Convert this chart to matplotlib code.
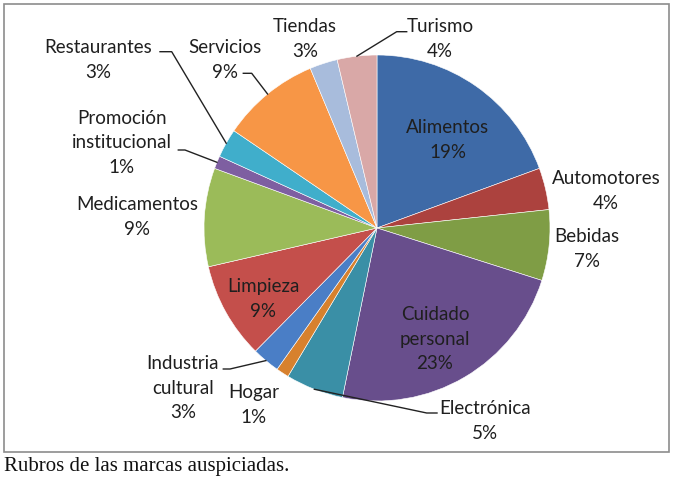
import numpy as np
import matplotlib
matplotlib.use('Agg')
import matplotlib.pyplot as plt
from matplotlib.patches import Rectangle

# Rubros de las marcas auspiciadas (porcentaje)
rubros = ['Alimentos', 'Automotores', 'Bebidas', 'Cuidado\npersonal', 'Electrónica',
          'Hogar', 'Industria\ncultural', 'Limpieza', 'Medicamentos',
          'Promoción\ninstitucional', 'Restaurantes', 'Servicios', 'Tiendas', 'Turismo']
valores = [19.4, 3.9, 6.6, 23.3, 5.4, 1.2, 2.6, 9.0, 9.2, 1.2, 2.7, 9.2, 2.6, 3.7]
colores = ['#3E6AA7', '#AC423E', '#7F9D45', '#684E8C', '#3A8FA6', '#D7812E',
           '#4A7EC6', '#C44F4B', '#9BBB59', '#7E5FA1', '#40AECB', '#F79646',
           '#A8BCDC', '#D9A8A7']

W, H = 673, 483
CX, CY, R = 377, 228, 173

# label centres in pixels (x, y from top)
pos_px = [(448, 140), (606, 191), (587, 249), (435, 339), (485, 421),
          (254, 405), (183, 388), (263, 299), (137, 217), (122, 143),
          (98, 60), (225, 60), (305, 39), (440, 39)]
# leader lines: index -> (elbow, end) in pixels
leaders = {13: ((396.7, 31.7), (406.7, 31.7)),
           11: ((251.7, 73.3), (243.3, 73.3)),
           10: ((171.7, 51.7), (160, 51.7)),
           9: ((185, 150), (178.3, 150)),
           6: ((230, 369), (223.3, 369)),
           4: ((426.7, 413), (437, 413))}

plt.rcParams['font.family'] = ['Lato', 'DejaVu Sans']

fig = plt.figure(figsize=(W / 100, H / 100), dpi=100)
ax = fig.add_axes([(CX - R) / W, 1 - (CY + R) / H, 2 * R / W, 2 * R / H])

wedges, _ = ax.pie(valores, colors=colores, startangle=90, counterclock=False,
                   radius=1, wedgeprops=dict(edgecolor='white', linewidth=0.4))
ax.set_xlim(-1, 1)
ax.set_ylim(-1, 1)
ax.set_aspect('equal')
ax.axis('off')


def px2d(p):
    return ((p[0] - CX) / R, (CY - p[1]) / R)


for i, (nom, v) in enumerate(zip(rubros, valores)):
    x, y = px2d(pos_px[i])
    ax.text(x, y, '%s\n%d%%' % (nom, round(v)), ha='center', va='center',
            fontsize=13.5, color='#1f1f1f', linespacing=1.55, clip_on=False)
    if i in leaders:
        w = wedges[i]
        ang = np.deg2rad((w.theta1 + w.theta2) / 2)
        ex, ey = np.cos(ang), np.sin(ang)
        e1 = px2d(leaders[i][0])
        e2 = px2d(leaders[i][1])
        ax.plot([ex, e1[0], e2[0]], [ey, e1[1], e2[1]], color='#222222',
                lw=1.0, clip_on=False)

fig.patches.append(Rectangle((4 / W, 1 - 452 / H), 665 / W, 448 / H,
                             transform=fig.transFigure, fill=False,
                             edgecolor='#8c8c8c', lw=1.2))
fig.text(4 / W, 1 - 466 / H, 'Rubros de las marcas auspiciadas.', ha='left',
         va='center', fontsize=15, family='Liberation Serif', color='#111111')

fig.savefig('out.png', dpi=100)
